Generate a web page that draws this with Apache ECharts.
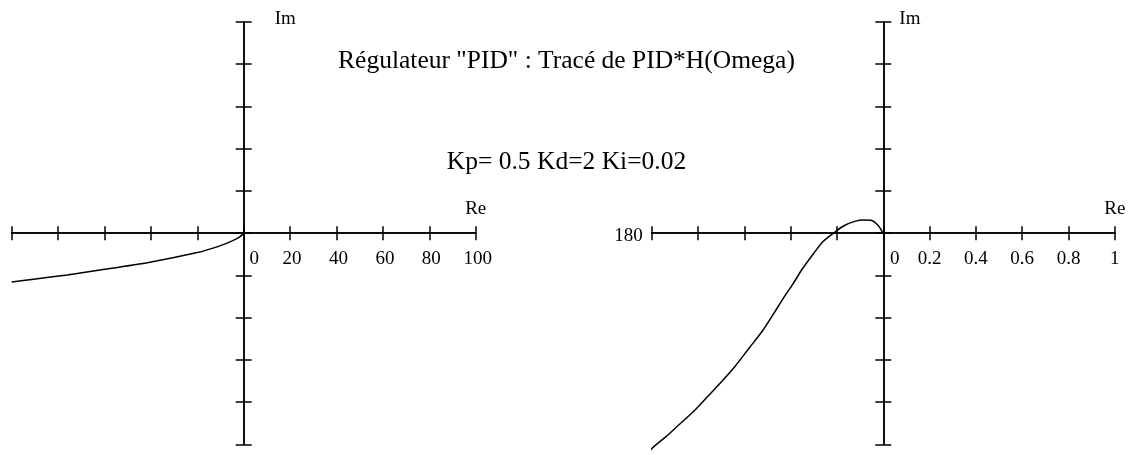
<!DOCTYPE html>
<html>
<head>
<meta charset="utf-8">
<title>Régulateur PID</title>
<script src="https://cdn.jsdelivr.net/npm/echarts@6/dist/echarts.min.js"></script>
<style>
  html, body { margin: 0; padding: 0; background: #fff; }
  #chart { width: 1133px; height: 455px; }
</style>
</head>
<body>
<div id="chart"></div>
<script>
// Nyquist locus of PID*H(jw), full view (left) and zoom near the origin (right)
const titleText = 'Régulateur "PID" : Tracé de PID*H(Omega)';
const paramText = 'Kp= 0.5 Kd=2 Ki=0.02';
const phaseLabel = '180';

// left panel: Re / Im samples
const leftRe = [-100, -90.5, -76, -62, -41, -20, -11.5, -5.7, -2.2, -0.4, 0];
const leftIm = [-23.1, -21.8, -19.8, -17.5, -13.9, -9.2, -6.5, -4.0, -2.1, -0.6, 0];

// right panel: Re / Im samples (zoom on [-1, 1])
const rightRe = [-1.05, -1.03, -0.99, -0.94, -0.88, -0.82, -0.76, -0.70, -0.64, -0.58,
                 -0.52, -0.47, -0.43, -0.39, -0.35, -0.30, -0.26, -0.215, -0.17, -0.12,
                 -0.085, -0.05, -0.022, -0.003, 0];
const rightIm = [-1.075, -1.055, -1.01, -0.965, -0.905, -0.845, -0.775, -0.705, -0.63, -0.545,
                 -0.46, -0.375, -0.305, -0.24, -0.17, -0.095, -0.04, 0, 0.035, 0.057,
                 0.062, 0.06, 0.036, 0.004, 0];

// axis ranges
const leftRange = { min: -100, max: 100, step: 20 };
const rightRange = { min: -1, max: 1, step: 0.2 };

const FONT = "'Liberation Serif', 'Times New Roman', serif";
const INK = '#000';

// panel frames
const panels = [
  { left: 11.7, width: 464 },
  { left: 651.8, width: 463 }
];
const TOP = 22, HEIGHT = 422.3;

function pairs(xs, ys) { return xs.map((x, i) => [x, ys[i]]); }

function fmt(v) {
  if (v < -1e-9) return '';
  if (Math.abs(v) < 1e-9) return '{z|0}';
  return '{n|' + String(+v.toFixed(2)) + '}';
}

const grids = [];
panels.forEach(p => {
  grids.push({ left: p.left, width: p.width, top: TOP, height: HEIGHT, outerBoundsMode: 'none' });
});
// upper-half frames: their bottom edge sits on the real axis and carries the Re labels
panels.forEach(p => {
  grids.push({ left: p.left, width: p.width, top: TOP, height: HEIGHT / 2, outerBoundsMode: 'none' });
});

const lineStyle = { color: INK, width: 1.5 };

// two copies of each crossing axis: one with ticks on each side of the line
function crossAxesX(grid, r, zeroIdx) {
  const base = {
    gridIndex: grid, type: 'value', position: 'bottom', min: r.min, max: r.max, interval: r.step,
    splitLine: { show: false }, axisLabel: { show: false },
    axisLine: { onZero: true, onZeroAxisIndex: zeroIdx, lineStyle: lineStyle }
  };
  return [
    Object.assign({}, base, {
      name: 'Re', nameLocation: 'end', nameGap: 0,
      nameTextStyle: { color: INK, fontFamily: FONT, fontSize: 19, align: 'center',
                       verticalAlign: 'bottom', padding: [0, 0, 15, 0] },
      axisTick: { show: true, inside: false, length: 7, lineStyle: lineStyle }
    }),
    Object.assign({}, base, {
      axisTick: { show: true, inside: true, length: 7, lineStyle: lineStyle }
    })
  ];
}

function labelAxisX(grid, r, nudge, zeroPad) {
  return {
    gridIndex: grid, type: 'value', position: 'bottom', min: r.min, max: r.max, interval: r.step,
    splitLine: { show: false }, axisLine: { show: false }, axisTick: { show: false },
    axisLabel: {
      show: true, margin: 16, color: INK, fontFamily: FONT, fontSize: 19, formatter: fmt,
      rich: {
        z: { fontFamily: FONT, fontSize: 19, color: INK, padding: [0, 0, 0, zeroPad] },
        n: { fontFamily: FONT, fontSize: 19, color: INK, padding: [0, 0, 0, nudge] }
      }
    }
  };
}

function crossAxesY(grid, r, zeroIdx, imPad) {
  const base = {
    gridIndex: grid, type: 'value', position: 'left', min: r.min, max: r.max, interval: r.step,
    splitLine: { show: false }, axisLabel: { show: false },
    axisLine: { onZero: true, onZeroAxisIndex: zeroIdx, lineStyle: lineStyle }
  };
  return [
    Object.assign({}, base, {
      name: 'Im', nameLocation: 'end', nameGap: 3,
      nameTextStyle: { color: INK, fontFamily: FONT, fontSize: 19, align: 'left',
                       verticalAlign: 'middle', padding: [0, 0, 0, imPad] },
      axisTick: { show: true, inside: false, length: 8, lineStyle: lineStyle }
    }),
    Object.assign({}, base, {
      axisTick: { show: true, inside: true, length: 8, lineStyle: lineStyle }
    })
  ];
}

function hiddenY(grid) {
  return { gridIndex: grid, type: 'value', min: 0, max: 1, show: false };
}

const chart = echarts.init(document.getElementById('chart'), null, { renderer: 'canvas' });

chart.setOption({
  animation: false,
  backgroundColor: '#fff',
  textStyle: { fontFamily: FONT, color: INK },
  title: [
    { text: titleText, left: 'center', top: 43,
      textStyle: { fontFamily: FONT, fontSize: 25.5, fontWeight: 'normal', color: INK } },
    { text: paramText, left: 'center', top: 144,
      textStyle: { fontFamily: FONT, fontSize: 25.5, fontWeight: 'normal', color: INK } }
  ],
  grid: grids,
  xAxis: [].concat(
    crossAxesX(0, leftRange, 0),        // 0, 1
    crossAxesX(1, rightRange, 2),       // 2, 3
    [labelAxisX(2, leftRange, 4, 21),   // 4
     labelAxisX(3, rightRange, 0, 23)]  // 5
  ),
  yAxis: [].concat(
    crossAxesY(0, leftRange, 0, 31),    // 0, 1
    crossAxesY(1, rightRange, 2, 16),   // 2, 3
    [hiddenY(2), hiddenY(3)]            // 4, 5
  ),
  series: [
    {
      type: 'line', xAxisIndex: 0, yAxisIndex: 0, data: pairs(leftRe, leftIm),
      showSymbol: false, clip: true, silent: true, smooth: 0.2,
      lineStyle: lineStyle
    },
    {
      type: 'line', xAxisIndex: 2, yAxisIndex: 2, data: pairs(rightRe, rightIm),
      showSymbol: false, clip: false, silent: true, smooth: 0.3,
      lineStyle: lineStyle
    }
  ]
});

// phase mark written just left of the right panel's real axis
const p = chart.convertToPixel({ gridIndex: 1 }, [rightRange.min, 0]);
chart.setOption({
  graphic: [{
    type: 'text', x: p[0] - 9, y: p[1] + 2.5, silent: true,
    style: { text: phaseLabel, align: 'right', verticalAlign: 'middle',
             font: '19px ' + FONT, fill: INK }
  }]
});
</script>
</body>
</html>
